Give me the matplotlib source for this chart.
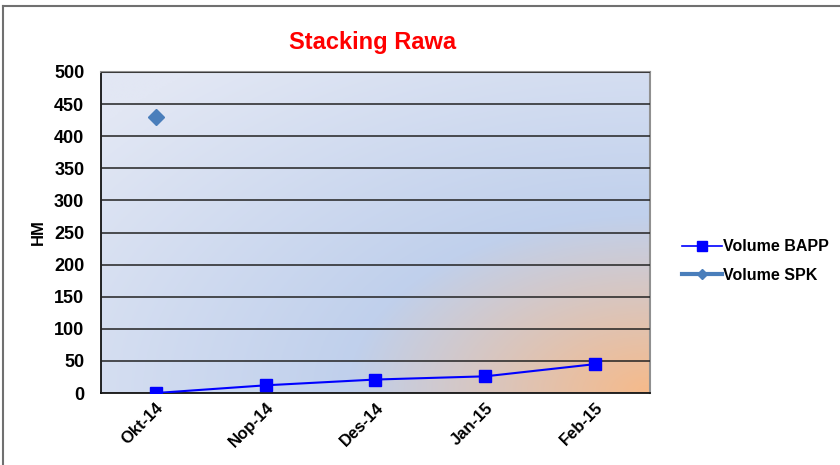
import numpy as np
import matplotlib
matplotlib.use('Agg')
import matplotlib.pyplot as plt
from matplotlib.lines import Line2D

plt.rcParams['font.family'] = ['Liberation Sans', 'DejaVu Sans']

# data
months = ['Okt-14', 'Nop-14', 'Des-14', 'Jan-15', 'Feb-15']
volume_bapp = [0, 12, 21, 26, 45]
volume_spk = [430, np.nan, np.nan, np.nan, np.nan]
y_ticks = list(range(0, 501, 50))

fig = plt.figure(figsize=(8.4, 4.65), dpi=100)
ax = fig.add_axes([0.1202, 0.1548, 0.6536, 0.6904])

# background gradient (radial from lower right corner)
gx, gy = np.meshgrid(np.linspace(0, 1, 300), np.linspace(0, 1, 200))
d = np.sqrt((1 - gx) ** 2 + gy ** 2)
orange = np.array([246, 186, 138]) / 255
blue = np.array([192, 208, 236]) / 255
light = np.array([226, 231, 244]) / 255
t1 = np.clip(d / 0.55, 0, 1)[..., None]
t2 = np.clip((d - 0.55) / 0.75, 0, 1)[..., None]
img = np.where(d[..., None] < 0.55,
               orange * (1 - t1) + blue * t1,
               blue * (1 - t2) + light * t2)
ax.imshow(img, extent=[0, 1, 0, 1], transform=ax.transAxes,
          origin='lower', aspect='auto', zorder=0)

x = np.arange(len(months))
ax.plot(x, volume_bapp, color='#0000ff', lw=1.5, marker='s', ms=8,
        zorder=3, label='Volume BAPP')
ax.plot(x, volume_spk, color='#4a7ebb', lw=3, marker='D', ms=8,
        zorder=3, label='Volume SPK')

ax.set_xlim(-0.5, len(months) - 0.5)
ax.set_ylim(0, 500)
ax.set_yticks(y_ticks)
ax.set_xticks(x)
ax.set_xticklabels(months, rotation=45, ha='right', rotation_mode='anchor',
                   fontsize=12, fontweight='bold')
for lab in ax.get_yticklabels():
    lab.set_fontsize(13)
    lab.set_fontweight('bold')
ax.tick_params(axis='y', length=0, pad=12)
ax.tick_params(axis='x', length=0, pad=5)
ax.grid(axis='y', color='#222222', lw=1.1)
ax.set_axisbelow(False)
for ln in ax.get_ygridlines():
    ln.set_zorder(1)

for s in ['top', 'right']:
    ax.spines[s].set_color('#909090')
    ax.spines[s].set_linewidth(1.5)
for s in ['left', 'bottom']:
    ax.spines[s].set_color('black')
    ax.spines[s].set_linewidth(1.2)

ax.set_ylabel('HM', fontsize=12, fontweight='bold', labelpad=6)
fig.text(373 / 840, 1 - 42 / 465, 'Stacking Rawa', color='#ff0000',
         fontsize=17, fontweight='bold', ha='center', va='center')

handles = [Line2D([], [], color='#0000ff', lw=1.2, marker='s', ms=7),
           Line2D([], [], color='#4a7ebb', lw=3, marker='D', ms=5)]
fig.legend(handles, ['Volume BAPP', 'Volume SPK'], loc='center left',
           bbox_to_anchor=(668 / 840, 1 - 261 / 465), frameon=False,
           prop={'weight': 'bold', 'size': 11.5}, handlelength=2.5,
           handletextpad=0.05, labelspacing=0.85)

# chart border
fig.add_artist(Line2D([3 / 840, 3 / 840], [0, 1 - 6 / 465], color='#707070',
                      lw=1.5, transform=fig.transFigure))
fig.add_artist(Line2D([3 / 840, 1], [1 - 6 / 465, 1 - 6 / 465],
                      color='#707070', lw=1.5, transform=fig.transFigure))

fig.savefig('out.png', dpi=100)
